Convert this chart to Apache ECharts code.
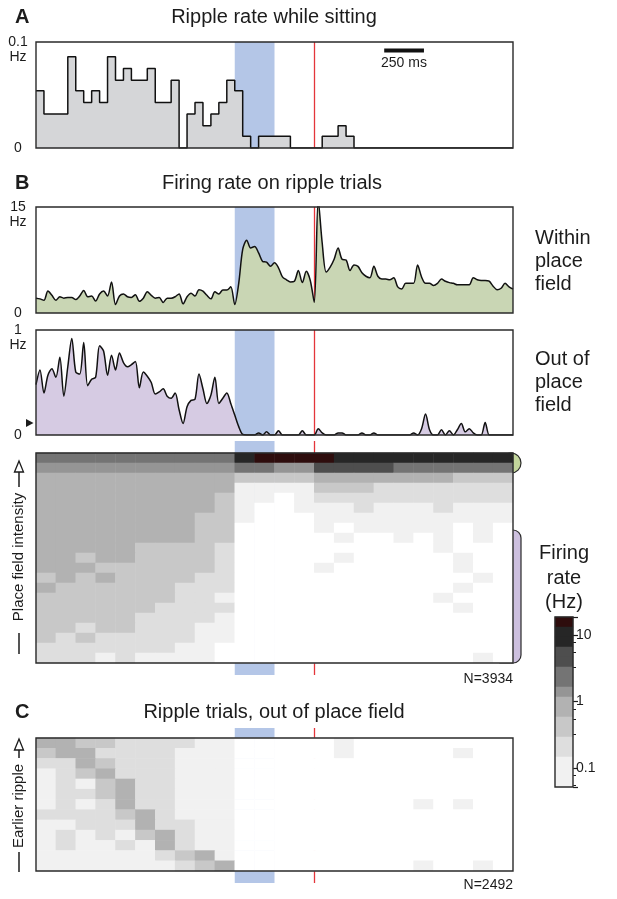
<!DOCTYPE html>
<html>
<head>
<meta charset="utf-8">
<script src="https://cdn.jsdelivr.net/npm/echarts@6/dist/echarts.min.js"></script>
<style>
html, body { margin: 0; padding: 0; background: #fff; }
#fig { width: 617px; height: 899px; }
</style>
</head>
<body>
<div id="fig"></div>
<script>
// time axis (ms, ripple at 0)
var timeMin = -1750, timeMax = 1250;
var blueBand = [-500, -250];
var rippleTime = 0;

// A: ripple rate while sitting, 50 ms bins (Hz)
var binMs = 50;
var rippleRate = [
  0.054, 0.032, 0.032, 0.032, 0.086, 0.054, 0.043, 0.054, 0.043, 0.086,
  0.064, 0.075, 0.064, 0.064, 0.075, 0.043, 0.043, 0.064, 0, 0.032,
  0.043, 0.021, 0.032, 0.043, 0.064, 0.054, 0.011, 0, 0.011, 0.011,
  0.011, 0.011, 0, 0, 0, 0, 0.011, 0.011, 0.021, 0.011,
  0, 0, 0, 0, 0, 0, 0, 0, 0, 0,
  0, 0, 0, 0, 0, 0, 0, 0, 0, 0
];
var scaleBarMs = [440, 690];
var scaleBarY = 0.092;

// B: firing rate, 25 ms samples (Hz)
var sampleMs = 25;
var withinField = [
  2.1, 2.0, 1.8, 3.1, 2.5, 1.8, 2.3, 2.1, 2.2, 2.2, 1.9, 2.4, 3.2, 2.3, 2.4, 1.7, 2.7, 3.1, 2.4, 4.4,
  1.2, 2.4, 2.7, 2.3, 2.2, 2.6, 1.65, 2.1, 3.0, 2.5, 2.1, 2.2, 1.5, 2.1, 2.1, 2.3, 2.7, 1.3, 2.3, 2.8,
  2.4, 3.3, 3.1, 2.5, 2.0, 3.0, 2.7, 3.25, 3.25, 3.7, 1.2, 4.2, 9.0, 10.3, 9.2, 9.4, 8.5, 7.3, 7.2, 6.6,
  7.1, 6.4, 5.1, 4.7, 4.4, 4.5, 6.0, 4.3, 5.9, 4.6, 1.5, 16, 9.9, 5.8, 6.5, 7.6, 9.2, 7.6, 7.5, 6.0,
  6.8, 6.6, 5.7, 5.2, 5.0, 6.6, 5.2, 4.8, 4.8, 4.7, 5.0, 3.7, 3.4, 4.2, 4.2, 4.2, 6.8, 5.1, 4.2, 4.2,
  3.9, 4.2, 4.8, 4.5, 4.3, 4.2, 4.0, 4.0, 4.0, 4.0, 5.0, 4.7, 4.6, 4.6, 4.5, 3.8, 3.3, 3.5, 4.2, 3.7, 3.4
];
var outField = [
  0.48, 0.62, 0.40, 0.57, 0.63, 0.55, 0.74, 0.37, 0.65, 0.92, 0.60, 0.58, 0.88, 0.47, 0.53, 0.55, 0.85, 0.80, 0.57, 0.76,
  0.62, 0.78, 0.69, 0.65, 0.67, 0.70, 0.45, 0.60, 0.56, 0.50, 0.39, 0.41, 0.44, 0.37, 0.35, 0.40, 0.24, 0.11, 0.27, 0.33,
  0.34, 0.58, 0.44, 0.30, 0.38, 0.55, 0.30, 0.35, 0.40, 0.30, 0.19, 0.08, 0.005, 0, 0, 0, 0.02, 0, 0.03, 0,
  0, 0.04, 0, 0, 0, 0, 0, 0.04, 0, 0, 0, 0.06, 0.02, 0, 0, 0, 0.02, 0.02, 0, 0,
  0, 0, 0.02, 0, 0, 0.02, 0, 0, 0, 0, 0, 0, 0, 0, 0, 0.02, 0, 0.06, 0.2, 0.05,
  0, 0, 0.05, 0, 0.04, 0, 0.05, 0.11, 0.03, 0.06, 0.02, 0, 0, 0.12, 0, 0, 0, 0, 0, 0, 0
];

// rasters: spike density per 125 ms x row cell, 0 (none) .. 9 (max)
var rasterCols = 24;
var rasterB = [
  '666666666689999888888888',
  '555555555566557777666666',
  '444444444433334444444333',
  '444444444411113332222222',
  '444444444311012222222222',
  '444444444310011121112111',
  '444444443310001111111111',
  '444444443300001011111010',
  '444444443300000100101010',
  '444443333200000000001000',
  '443443333200000100000100',
  '444333333200001000000100',
  '343433332200000000000010',
  '433333322200000000000100',
  '333333322100000000001000',
  '333333222200000000000100',
  '333332222100000000000000',
  '332332221100000000000000',
  '323222221100000000000000',
  '222222211000000000000000',
  '222121111000000000000010'
];
var rasterC = [
  '443322221100000100000000',
  '344222211100000100000100',
  '224322211100000000000000',
  '123422211100000000000000',
  '121342211100000000000000',
  '122342211100000000000000',
  '121242211100000000010100',
  '222234211100000000000000',
  '112224221100000000000000',
  '121213421100000000000000',
  '121121421100000000000000',
  '111111234100000000000000',
  '111111123400000000010010'
];
var colorbarLevels = [9, 8, 8, 7, 7, 6, 6, 5, 4, 4, 3, 3, 2, 2, 1, 1, 1];
var colorbarRange = [0.052, 18.6];
var shade = ['#ffffff', '#f1f1f1', '#dedede', '#c8c8c8', '#b2b2b2', '#959595', '#747474', '#4e4e4e', '#262626', '#2e0d0d'];

var font = 'Liberation Sans, Arial, Helvetica, sans-serif';
var ink = '#1c1c1c';
var left = 36, width = 477;
var boxA = {top: 42, height: 106};
var boxG = {top: 207, height: 106};
var boxP = {top: 330, height: 105};
var stripB = {top: 441, height: 234};
var boxR = {top: 453, height: 210};
var stripC = {top: 728, height: 155};
var boxC = {top: 738, height: 133};
var boxCB = {left: 555, top: 617, width: 18, height: 170};

function gridOf(b) { return {left: left, top: b.top, width: width, height: b.height}; }
function timeAxis(i) { return {gridIndex: i, type: 'value', min: timeMin, max: timeMax, show: false}; }
function rateAxis(i, max, top) {
  return {
    gridIndex: i, type: 'value', min: 0, max: max, interval: max,
    axisLine: {show: false}, axisTick: {show: false}, splitLine: {show: false},
    axisLabel: {
      fontFamily: font, fontSize: 14, color: ink, align: 'center', margin: 18,
      lineHeight: 15, verticalAlign: 'top', padding: [-7, 0, 0, 0],
      formatter: function (v) { return v === 0 ? '0' : top + '\nHz'; }
    }
  };
}
function catData(n) { var a = []; for (var i = 0; i < n; i++) a.push(String(i)); return a; }
function bandSeries(ax) {
  return {
    type: 'scatter', xAxisIndex: ax, yAxisIndex: ax, data: [], z: 1, silent: true,
    markArea: {silent: true, itemStyle: {color: '#b4c6e7'}, data: [[{xAxis: blueBand[0]}, {xAxis: blueBand[1]}]]},
    markLine: {silent: true, symbol: ['none', 'none'], label: {show: false},
      lineStyle: {color: '#e4353b', width: 1.3, type: 'solid'}, data: [{xAxis: rippleTime}]}
  };
}
function rasterData(rows) {
  var d = [];
  rows.forEach(function (row, r) {
    for (var c = 0; c < row.length; c++) d.push([c, r, +row[c]]);
  });
  return d;
}

var histData = rippleRate.map(function (v, i) { return [timeMin + i * binMs, v]; });
histData.push([timeMin + rippleRate.length * binMs, rippleRate[rippleRate.length - 1]]);
var withinData = withinField.map(function (v, k) { return [timeMin + k * sampleMs, v]; });
var outData = outField.map(function (v, k) { return [timeMin + k * sampleMs, v]; });
var cbData = colorbarLevels.map(function (v, i) { return [0, i, v]; });

var chart = echarts.init(document.getElementById('fig'));

var outline = {type: 'rect', z: 100, silent: true, style: {fill: null, stroke: '#2a2a2a', lineWidth: 1.4}};
function boxRect(b, l, w) {
  return echarts.util.merge({shape: {x: l, y: b.top, width: w, height: b.height}}, outline, true);
}
function txt(x, y, text, o) {
  return {type: 'text', x: x, y: y, z: 100, style: echarts.util.extend({
    text: text, fontFamily: font, fontSize: 20, fill: ink, align: 'left', verticalAlign: 'middle'
  }, o || {})};
}
function vlabel(x, y, text) {
  return {type: 'text', x: x, y: y, rotation: Math.PI / 2, z: 100,
    style: {text: text, fontFamily: font, fontSize: 15, fill: ink, align: 'center', verticalAlign: 'middle'}};
}
function arrow(x, yTop, yStem) {
  return [
    {type: 'line', z: 100, shape: {x1: x, y1: yStem, x2: x, y2: yTop + 10}, style: {stroke: ink, lineWidth: 1.5}},
    {type: 'polygon', z: 101, shape: {points: [[x - 4.5, yTop + 11], [x, yTop], [x + 4.5, yTop + 11]]},
      style: {fill: '#fff', stroke: ink, lineWidth: 1.3}}
  ];
}
function bar(x, y1, y2) {
  return {type: 'line', z: 100, shape: {x1: x, y1: y1, x2: x, y2: y2}, style: {stroke: ink, lineWidth: 1.5}};
}

var graphics = [
  txt(15, 17, 'A', {fontWeight: 'bold'}),
  txt(274, 17, 'Ripple rate while sitting', {align: 'center'}),
  txt(404, 63, '250 ms', {align: 'center', fontSize: 14}),
  txt(15, 183, 'B', {fontWeight: 'bold'}),
  txt(272, 183, 'Firing rate on ripple trials', {align: 'center'}),
  txt(535, 261, 'Within\nplace\nfield', {lineHeight: 23}),
  txt(535, 382, 'Out of\nplace\nfield', {lineHeight: 23}),
  txt(513, 679, 'N=3934', {align: 'right', fontSize: 14}),
  txt(15, 712, 'C', {fontWeight: 'bold'}),
  txt(274, 712, 'Ripple trials, out of place field', {align: 'center'}),
  txt(513, 885, 'N=2492', {align: 'right', fontSize: 14}),
  txt(564, 578, 'Firing\nrate\n(Hz)', {align: 'center', lineHeight: 24.5}),
  vlabel(19, 557, 'Place field intensity'),
  vlabel(19, 806, 'Earlier ripple'),
  bar(19, 633, 654),
  bar(19, 852, 872),
  {type: 'polygon', z: 100, shape: {points: [[26, 419], [33.5, 423], [26, 427]]}, style: {fill: ink}},
  {type: 'ellipse', z: 0, shape: {cx: 511, cy: 463, rx: 10, ry: 10}, style: {fill: '#c3d69c', stroke: '#2a2a2a', lineWidth: 1.2}},
  {type: 'rect', z: 0, shape: {x: 500, y: 530, width: 21, height: 133, r: [0, 8, 8, 0]}, style: {fill: '#cdc0df', stroke: '#2a2a2a', lineWidth: 1.2}},
  boxRect(boxA, left, width), boxRect(boxG, left, width), boxRect(boxP, left, width),
  boxRect(boxR, left, width), boxRect(boxC, left, width),
  boxRect(boxCB, boxCB.left, boxCB.width)
].concat(arrow(19, 461, 487), arrow(19, 739, 758));

var option = {
  animation: false,
  backgroundColor: '#fff',
  grid: [
    gridOf(boxA), gridOf(boxG), gridOf(boxP), gridOf(stripB), gridOf(boxR), gridOf(stripC), gridOf(boxC),
    {left: boxCB.left, top: boxCB.top, width: boxCB.width, height: boxCB.height}
  ],
  xAxis: [
    timeAxis(0), timeAxis(1), timeAxis(2), timeAxis(3),
    {gridIndex: 4, type: 'category', data: catData(rasterCols), show: false},
    timeAxis(5),
    {gridIndex: 6, type: 'category', data: catData(rasterCols), show: false},
    {gridIndex: 7, type: 'category', data: ['0'], show: false}
  ],
  yAxis: [
    rateAxis(0, 0.1, '0.1'), rateAxis(1, 15, '15'), rateAxis(2, 1, '1'),
    {gridIndex: 3, type: 'value', min: 0, max: 1, show: false},
    {gridIndex: 4, type: 'category', data: catData(rasterB.length), inverse: true, show: false},
    {gridIndex: 5, type: 'value', min: 0, max: 1, show: false},
    {gridIndex: 6, type: 'category', data: catData(rasterC.length), inverse: true, show: false},
    {gridIndex: 7, type: 'category', data: catData(colorbarLevels.length), inverse: true, show: false},
    {gridIndex: 7, type: 'log', logBase: 10, position: 'right', min: colorbarRange[0], max: colorbarRange[1],
      axisLine: {show: false}, splitLine: {show: false},
      axisTick: {show: true, length: 5, lineStyle: {color: ink, width: 1.2}},
      minorTick: {show: true, splitNumber: 4, length: 3, lineStyle: {color: ink}},
      axisLabel: {fontFamily: font, fontSize: 14, color: ink, margin: 3,
        showMinLabel: false, showMaxLabel: false,
        formatter: function (v) { return String(+v.toPrecision(2)); }}}
  ],
  visualMap: {
    type: 'piecewise', show: false, dimension: 2, seriesIndex: [8, 10, 11],
    pieces: shade.map(function (c, i) { return {value: i, color: c}; })
  },
  graphic: graphics,
  series: [
    bandSeries(0),
    {type: 'line', xAxisIndex: 0, yAxisIndex: 0, step: 'end', data: histData, symbol: 'none', z: 6,
      lineStyle: {color: '#111', width: 1.5}, areaStyle: {color: '#d5d6d8', opacity: 1}},
    {type: 'line', xAxisIndex: 0, yAxisIndex: 0, symbol: 'none', z: 7,
      data: scaleBarMs.map(function (t) { return [t, scaleBarY]; }),
      lineStyle: {color: '#111', width: 4, cap: 'butt'}},
    bandSeries(1),
    {type: 'line', xAxisIndex: 1, yAxisIndex: 1, data: withinData, symbol: 'none', z: 6, smooth: 0.3,
      lineStyle: {color: '#111', width: 1.5}, areaStyle: {color: '#c9d6b4', opacity: 1}},
    bandSeries(2),
    {type: 'line', xAxisIndex: 2, yAxisIndex: 2, data: outData, symbol: 'none', z: 6, smooth: 0.3,
      lineStyle: {color: '#111', width: 1.5}, areaStyle: {color: '#d6cbe3', opacity: 1}},
    bandSeries(3),
    {type: 'heatmap', xAxisIndex: 4, yAxisIndex: 4, data: rasterData(rasterB), z: 10, silent: true},
    bandSeries(5),
    {type: 'heatmap', xAxisIndex: 6, yAxisIndex: 6, data: rasterData(rasterC), z: 10, silent: true},
    {type: 'heatmap', xAxisIndex: 7, yAxisIndex: 7, data: cbData, z: 10, silent: true}
  ]
};
chart.setOption(option);
</script>
</body>
</html>
